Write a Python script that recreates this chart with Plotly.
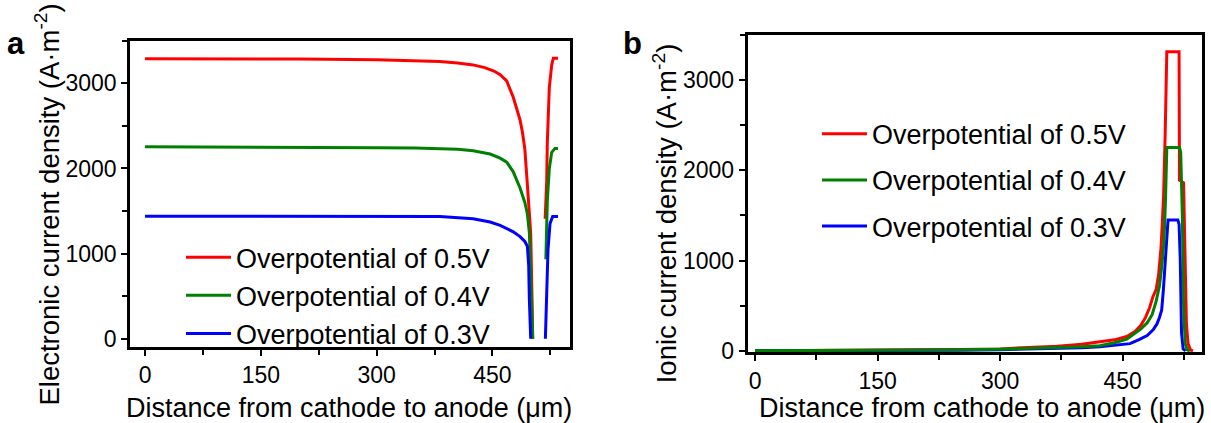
import plotly.graph_objects as go

# ---------------- data ----------------
series_names = ["Overpotential of 0.5V", "Overpotential of 0.4V", "Overpotential of 0.3V"]

# Panel a: electronic current density (A m^-2)
elec_x_05 = [0, 100, 200, 300, 350, 382, 405, 425, 440, 452, 460, 468.5, 477, 482, 485.8, 489, 492,
             495.3, 497.5, 499.6, 501.3, 502.2,
             None, 518.3, 520.3, 521.1, 523.7, 526.8, 528.9, 535]
elec_y_05 = [3290, 3289, 3286, 3278, 3268, 3256, 3240, 3217, 3185, 3145, 3103, 3028, 2837, 2700, 2570, 2420, 2228,
             1808, 1520, 1237, 475, 0,
             None, 1409, 1846, 2303, 2951, 3217, 3294, 3294]

elec_x_04 = [0, 100, 200, 300, 350, 382, 405, 425, 447, 460, 468.5, 477, 485.8, 492, 495.3, 497.9, 499.6,
             501.3, 502.2,
             None, 519.2, 521.1, 523.7, 526.8, 531, 535]
elec_y_04 = [2254, 2253, 2250, 2245, 2240, 2235, 2225, 2208, 2170, 2121, 2075, 1961, 1771, 1600, 1466, 1237, 857,
             289, 0,
             None, 933, 1618, 2000, 2190, 2236, 2236]

elec_x_03 = [0, 100, 200, 300, 350, 382, 425, 447, 460, 468.5, 477, 485.8, 492, 495.3, 497, 497.8, 499.6,
             None, 518.6, 520.3, 522, 524.6, 528, 535]
elec_y_03 = [1440, 1439, 1438, 1437, 1436, 1435, 1409, 1371, 1332, 1294, 1256, 1199, 1142, 1085, 857, 475, 0,
             None, 0, 475, 1047, 1352, 1435, 1435]

# Panel b: ionic current density (A m^-2)
ion_x_05 = [0, 50, 100, 150, 200, 250, 300, 340, 370, 400, 420, 440, 455, 465, 472, 478, 483, 487,
            491, 494, 497, 500, 502, 503.5, 504, 519, 519.5, 524.5, 526, 528, 530, 533, 536]
ion_y_05 = [1, 2, 4, 6, 9, 14, 22, 35, 52, 72, 93, 122, 160, 215, 280, 370, 480, 600,
            680, 850, 1150, 1700, 2400, 3100, 3310, 3310, 1890, 1860, 1200, 300, 80, 10, 0]

ion_x_04 = [0, 50, 100, 150, 200, 250, 300, 340, 370, 400, 422, 440, 455, 463, 472, 480, 486, 491,
            495, 498, 500.5, 502.5, 504, 519.5, 521, 523, 524.5, 526.5, 529, 532]
ion_y_04 = [1, 2, 3, 5, 8, 12, 18, 26, 36, 45, 57, 90, 130, 182, 240, 310, 400, 550,
            720, 950, 1200, 1700, 2250, 2250, 2200, 1500, 500, 80, 10, 0]

ion_x_03 = [0, 50, 100, 150, 200, 250, 300, 340, 370, 400, 422, 440, 459, 470, 480, 487.5, 492, 495,
            497.7, 499.7, 501.5, 503, 504.5, 505.5, 517.5, 519, 520.5, 522, 524, 527]
ion_y_03 = [1, 1, 2, 3, 5, 8, 12, 18, 25, 35, 45, 60, 80, 125, 170, 236, 300, 370,
            450, 665, 900, 1150, 1380, 1450, 1450, 1400, 1000, 200, 20, 0]

x_ticks = [0, 150, 300, 450]
y_ticks = [0, 1000, 2000, 3000]

x_title = "Distance from cathode to anode (μm)"
y_title_a = "Electronic current density (A·m<sup>-2</sup>)"
y_title_b = "Ionic current density (A·m<sup>-2</sup>)"

colors = ["#ff0000", "#008000", "#0000ff"]

# ---------------- figure ----------------
FONT = "Liberation Sans, Arial, sans-serif"
W, H = 1211, 423

fig = go.Figure()

elec = [(elec_x_05, elec_y_05), (elec_x_04, elec_y_04), (elec_x_03, elec_y_03)]
for i, (xs, ys) in enumerate(elec):
    fig.add_trace(go.Scatter(
        x=xs, y=ys, mode="lines", name=series_names[i],
        line=dict(color=colors[i], width=3), connectgaps=False,
        xaxis="x", yaxis="y", legend="legend", legendgroup="a%d" % i,
    ))

ion = [(ion_x_05, ion_y_05), (ion_x_04, ion_y_04), (ion_x_03, ion_y_03)]
draw_order = [0, 2, 1]  # green drawn on top in panel b
for i in draw_order:
    xs, ys = ion[i]
    fig.add_trace(go.Scatter(
        x=xs, y=ys, mode="lines", name=series_names[i],
        line=dict(color=colors[i], width=3),
        xaxis="x2", yaxis="y2", legend="legend2", legendgroup="b%d" % i,
        legendrank=i + 1,
    ))


def px_x(p):
    return p / W


def px_y(p):
    return 1 - p / H


axis_common = dict(
    showline=True, linecolor="black", linewidth=2.5, mirror=True,
    ticks="outside", ticklen=6, tickwidth=2, tickcolor="black",
    showgrid=False, zeroline=False,
    tickfont=dict(family=FONT, size=23, color="black"),
)
minor_x = dict(ticks="outside", dtick=75, tick0=0, ticklen=5, tickwidth=2, tickcolor="black")
minor_y = dict(ticks="outside", dtick=500, tick0=0, ticklen=5, tickwidth=2, tickcolor="black")


def label(text, x, y, angle=0, size=28, bold=False, yanchor="middle"):
    return dict(text=("<b>%s</b>" % text) if bold else text,
                x=px_x(x), y=px_y(y), xref="paper", yref="paper",
                xanchor="center", yanchor=yanchor, showarrow=False, textangle=angle,
                font=dict(family=FONT, size=size, color="black"))


fig.update_layout(
    width=W, height=H,
    margin=dict(l=0, r=0, t=0, b=0),
    paper_bgcolor="white", plot_bgcolor="white",
    font=dict(family=FONT, color="black"),
    xaxis=dict(domain=[px_x(130), px_x(570)], range=[-19.5, 550.5], anchor="y",
               tickvals=x_ticks, minor=minor_x, **axis_common),
    yaxis=dict(domain=[px_y(357), px_y(42)], range=[-96, 3500], anchor="x",
               tickvals=y_ticks, minor=minor_y, **axis_common),
    xaxis2=dict(domain=[px_x(747.5), px_x(1201.7)], range=[-9.2, 546.7], anchor="y2",
                tickvals=x_ticks, minor=minor_x, **axis_common),
    yaxis2=dict(domain=[px_y(362.5), px_y(35.7)], range=[-15, 3500], anchor="x2",
                tickvals=y_ticks, minor=minor_y, **axis_common),
    legend=dict(x=px_x(181), y=px_y(240), xanchor="left", yanchor="top",
                bgcolor="rgba(0,0,0,0)", borderwidth=0,
                font=dict(family=FONT, size=27, color="black"),
                itemwidth=45, tracegroupgap=0, traceorder="normal"),
    legend2=dict(x=px_x(817), y=px_y(113), xanchor="left", yanchor="top",
                 bgcolor="rgba(0,0,0,0)", borderwidth=0,
                 font=dict(family=FONT, size=27, color="black"),
                 itemwidth=45, tracegroupgap=8, traceorder="grouped"),
    annotations=[
        label(x_title, 349, 420, size=27),
        label(x_title, 981.5, 420, size=27),
        label(y_title_a, 48, 210.5, angle=-90, size=27.5),
        label(y_title_b, 665, 219.5, angle=-90, size=27.5),
        label("a", 16, 44.5, size=31, bold=True),
        label("b", 632, 44.5, size=31, bold=True),
    ],
    showlegend=True,
)

fig.write_html("out.html")
